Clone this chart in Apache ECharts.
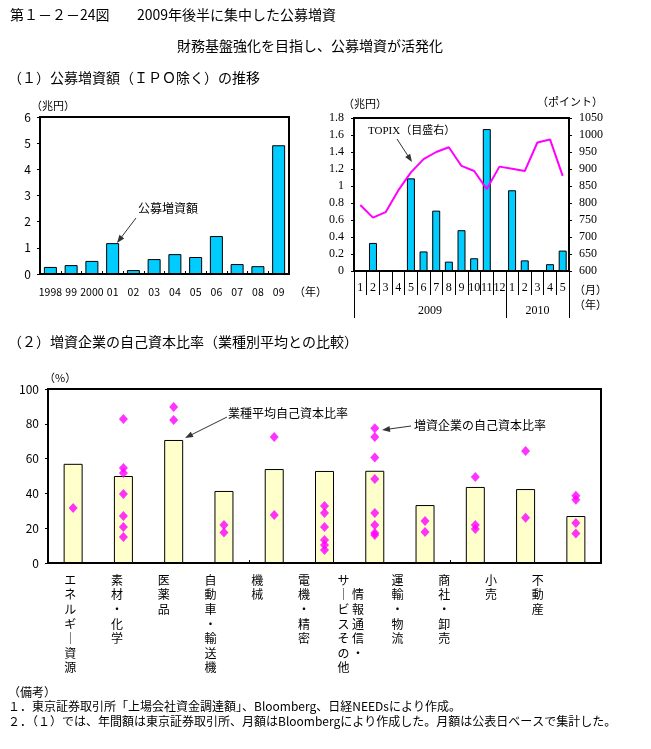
<!DOCTYPE html>
<html>
<head>
<meta charset="utf-8">
<script src="https://cdn.jsdelivr.net/npm/echarts@6/dist/echarts.min.js"></script>
<style>
html,body{margin:0;padding:0;background:#fff;}
#c{width:651px;height:749px;}
</style>
</head>
<body>
<div id="c"></div>
<script>
// ---- data ----
const years = ['1998','99','2000','01','02','03','04','05','06','07','08','09'];
const issueAnnual = [0.27,0.34,0.50,1.18,0.15,0.57,0.76,0.65,1.45,0.38,0.30,4.92];

const months = ['1','2','3','4','5','6','7','8','9','10','11','12','1','2','3','4','5'];
const issueMonthly = [null,0.33,null,null,1.09,0.23,0.71,0.11,0.48,0.15,1.67,null,0.95,0.125,null,0.08,0.24];
const topix = [794,757,773,837,890,929,950,964,909,894,841,907,901,894,978,987,880];
const yearBreaks = [0,12,17];
const yearLabelPos = [6,14.5];
const yearLabels = ['2009','2010'];

const sectors = ['エネルギー資源','素材・化学','医薬品','自動車・輸送機','機械','電機・精密','情報通信・サービスその他','運輸・物流','商社・卸売','小売','不動産'];
const sectorAvg = [57,50,70.7,41.4,54,52.9,53,33.3,43.7,42.5,27];
const firmRatios = [
  [31.6],
  [82.8,54.6,51.7,39.7,27,20.7,14.9],
  [89.7,82.2],
  [21.8,17.6],
  [72.4,27.6],
  [32.8,28.7,20.7,13.2,10.3,7.5],
  [77.4,72.4,60.7,48.3,28.7,21.8,17.2,16.1],
  [24.1,17.8],
  [49.4,21.8,19.5],
  [64.4,26],
  [38.7,36.4,23,17]
];

// ---- helpers ----
const FF = "'Noto Sans CJK JP', sans-serif";
const SERIF = "'Liberation Serif','DejaVu Serif','Noto Sans CJK JP', serif";

function vert(name){
  const conv = c => (c === 'ー' ? '｜' : c);
  if (name.indexOf('・サービス') >= 0) {
    const right = Array.from('情報通信・');
    const left = Array.from('サービスその他').map(conv);
    const lines = [];
    for (let i = 0; i < left.length; i++) {
      const r = (i >= 1 && right[i-1]) ? right[i-1] : '　';
      lines.push(left[i] + ' ' + r);
    }
    return lines.join('\n');
  }
  return Array.from(name).map(conv).join('\n');
}

function arrow(x1,y1,x2,y2){
  const a = Math.atan2(y2-y1, x2-x1), L = 8, W = 3;
  const c = Math.cos(a), s = Math.sin(a);
  const p1 = [x2 - L*c + W*s, y2 - L*s - W*c];
  const p2 = [x2 - L*c - W*s, y2 - L*s + W*c];
  return [
    {type:'line', shape:{x1:x1,y1:y1,x2:x2-L*c*0.6,y2:y2-L*s*0.6}, style:{stroke:'#333',lineWidth:1}},
    {type:'polygon', shape:{points:[[x2,y2],p1,p2]}, style:{fill:'#333'}}
  ];
}
function txt(x,y,t,size,opts){
  return Object.assign({type:'text', x:x, y:y, style:Object.assign({
    text:t, fontSize:size, fontFamily:FF, fill:'#000', textVerticalAlign:'middle', textAlign:'left'
  }, opts||{})});
}

const chart = echarts.init(document.getElementById('c'), null, {renderer:'canvas'});

const scatterData = [];
firmRatios.forEach((arr,i) => arr.forEach(v => scatterData.push([i, v])));

const axisLineBlack = {show:true, lineStyle:{color:'#000', width:2}};
const plain = v => String(v);

const option = {
  backgroundColor:'#fff',
  animation:false,
  textStyle:{fontFamily:FF},
  grid:[
    {left:40, top:117, width:249, height:157, show:true, borderColor:'#000', borderWidth:2, backgroundColor:'transparent'},
    {left:354, top:118, width:215, height:153, show:true, borderColor:'#000', borderWidth:2, backgroundColor:'transparent'},
    {left:48, top:389, width:553, height:174, show:true, borderColor:'#000', borderWidth:2, backgroundColor:'transparent'},
    {left:47, top:389, width:514, height:174, show:false}
  ],
  xAxis:[
    {gridIndex:0, type:'category', data:years, axisLine:axisLineBlack,
     axisTick:{show:true, inside:true, length:3, lineStyle:{color:'#000'}},
     axisLabel:{interval:0, margin:13, fontSize:10.5, color:'#000', fontFamily:FF}},
    {gridIndex:1, type:'category', data:months, axisLine:axisLineBlack,
     axisTick:{show:true, interval:0, length:24, lineStyle:{color:'#000', width:1}},
     axisLabel:{interval:0, margin:11, fontSize:12, color:'#000', fontFamily:SERIF}},
    {gridIndex:1, type:'value', min:0, max:17, position:'bottom', offset:0,
     axisLine:{show:false}, splitLine:{show:false},
     axisTick:{show:true, customValues:yearBreaks, length:47, lineStyle:{color:'#000', width:1}},
     axisLabel:{show:true, customValues:yearLabelPos, margin:34, fontSize:12, color:'#000', fontFamily:SERIF,
       formatter:function(v){ const i = yearLabelPos.indexOf(v); return i >= 0 ? yearLabels[i] : ''; }}},
    {gridIndex:2, type:'category', data:sectors, axisLine:axisLineBlack,
     axisTick:{show:true, inside:true, length:3, lineStyle:{color:'#000'}},
     axisLabel:{show:false}},
    {gridIndex:3, type:'category', data:sectors, axisLine:{show:false}, axisTick:{show:false},
     axisLabel:{interval:0, margin:10, fontSize:12, lineHeight:14.6, color:'#000', fontFamily:FF,
       formatter:function(v){ return vert(v); }}}
  ],
  yAxis:[
    {gridIndex:0, type:'value', min:0, max:6, interval:1, axisLine:axisLineBlack,
     axisTick:{show:true, length:3, lineStyle:{color:'#000'}}, splitLine:{show:false},
     axisLabel:{margin:9, fontSize:12, color:'#000', fontFamily:FF, formatter:plain}},
    {gridIndex:1, type:'value', min:0, max:1.8, interval:0.2, axisLine:axisLineBlack,
     axisTick:{show:true, length:3, lineStyle:{color:'#000'}}, splitLine:{show:false},
     axisLabel:{margin:10, fontSize:12, color:'#000', fontFamily:SERIF, formatter:plain}},
    {gridIndex:1, type:'value', min:600, max:1050, interval:50, position:'right', axisLine:axisLineBlack,
     axisTick:{show:true, length:3, lineStyle:{color:'#000'}}, splitLine:{show:false},
     axisLabel:{margin:10, fontSize:12, color:'#000', fontFamily:SERIF, formatter:plain}},
    {gridIndex:2, type:'value', min:0, max:100, interval:20, axisLine:axisLineBlack,
     axisTick:{show:true, length:3, lineStyle:{color:'#000'}}, splitLine:{show:false},
     axisLabel:{margin:9, fontSize:12, color:'#000', fontFamily:FF, formatter:plain}},
    {gridIndex:3, type:'value', show:false, min:0, max:100}
  ],
  series:[
    {type:'bar', xAxisIndex:0, yAxisIndex:0, data:issueAnnual, barWidth:13,
     itemStyle:{color:'#00CCFF', borderColor:'#000', borderWidth:1}},
    {type:'bar', xAxisIndex:1, yAxisIndex:1, data:issueMonthly, barWidth:8,
     itemStyle:{color:'#00CCFF', borderColor:'#000', borderWidth:1}},
    {type:'line', xAxisIndex:1, yAxisIndex:2, data:topix, symbol:'none',
     lineStyle:{color:'#FF00FF', width:2}, z:5},
    {type:'bar', xAxisIndex:3, yAxisIndex:3, data:sectorAvg, barWidth:19,
     itemStyle:{color:'#FFFFCC', borderColor:'#000', borderWidth:1}},
    {type:'scatter', xAxisIndex:3, yAxisIndex:3, data:scatterData, symbol:'diamond', symbolSize:[9,10],
     itemStyle:{color:'#FF00FF'}, z:5}
  ],
  graphic:[
    txt(10,15,'第１－２－24図',14),
    txt(137,15,'2009年後半に集中した公募増資',14),
    txt(177,46,'財務基盤強化を目指し、公募増資が活発化',14),
    txt(8,78,'（１）公募増資額（ＩＰＯ除く）の推移',14),
    txt(31,106,'（兆円）',11),
    txt(294,292,'（年）',11),
    txt(343,104,'（兆円）',11),
    txt(537,102,'（ポイント）',11),
    txt(574,290,'（月）',11),
    txt(574,305,'（年）',11),
    txt(138,208,'公募増資額',12),
    txt(368,131,'TOPIX（目盛右）',11,{fontFamily:SERIF}),
    txt(8,342,'（２）増資企業の自己資本比率（業種別平均との比較）',14),
    txt(44,378,'（%）',11),
    txt(228,413,'業種平均自己資本比率',12),
    txt(414,425,'増資企業の自己資本比率',12),
    txt(8,692,'（備考）',12),
    txt(8,706,'１．東京証券取引所「上場会社資金調達額」、Bloomberg、日経NEEDsにより作成。',12),
    txt(8,721,'２．（１）では、年間額は東京証券取引所、月額はBloombergにより作成した。月額は公表日ベースで集計した。',12)
  ].concat(arrow(136,218,117,243), arrow(397,139,412,162), arrow(227,417,185,438), arrow(411,426,382,430))
};
chart.setOption(option);
</script>
</body>
</html>
